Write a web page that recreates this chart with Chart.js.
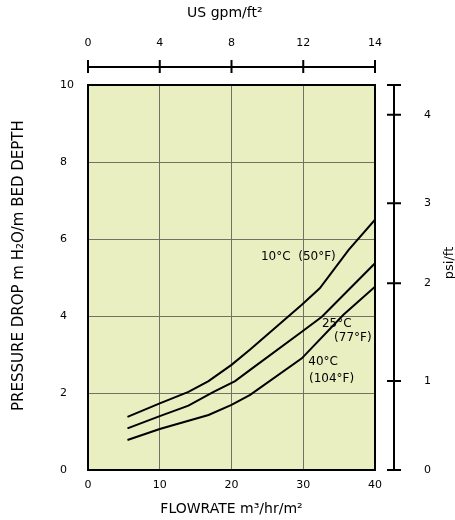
<!DOCTYPE html>
<html>
<head>
<meta charset="utf-8">
<script src="https://cdn.jsdelivr.net/npm/chart.js@4/dist/chart.umd.min.js"></script>
<style>
  html, body { margin: 0; padding: 0; background: #ffffff; }
  #wrap { width: 455px; height: 520px; }
</style>
</head>
<body>
<div id="wrap"><canvas id="c" width="455" height="520"></canvas></div>
<script>
// ---- data ----
const flow10C = [5.5, 10, 14, 16.8, 20, 22.6, 29.8, 32.3, 36.3, 40];
const drop10C = [1.38, 1.73, 2.03, 2.31, 2.73, 3.13, 4.29, 4.72, 5.71, 6.5];

const flow25C = [5.5, 10, 14, 17.5, 20.5, 22.6, 29.8, 32.6, 40];
const drop25C = [1.08, 1.40, 1.67, 2.03, 2.31, 2.6, 3.59, 3.98, 5.37];

const flow40C = [5.5, 10, 16.8, 20, 22.6, 29.8, 35.6, 40];
const drop40C = [0.78, 1.065, 1.43, 1.69, 1.95, 2.90, 4.03, 4.76];

// top axis: US gpm/ft2 labels placed at flow gridlines
const gpmTickPos = [0, 10, 20, 30, 40];
const gpmTickLabels = ['0', '4', '8', '12', '14'];

// right axis: psi/ft labels placed at pressure-drop positions (m/m)
const psiTickPos = [0, 2.31, 4.85, 6.93, 9.23];
const psiTickLabels = ['0', '1', '2', '3', '4'];

const curveLabels = ['10°C  (50°F)', '25°C', '(77°F)', '40°C', '(104°F)'];

const FONT = 'DejaVu Sans, Verdana, sans-serif';

function pts(xs, ys) { return xs.map((x, i) => ({x: x, y: ys[i]})); }

const bgPlugin = {
  id: 'bg',
  beforeDraw(chart) {
    const {ctx, chartArea: a} = chart;
    ctx.save();
    ctx.fillStyle = '#e9efc1';
    ctx.fillRect(a.left, a.top, a.right - a.left, a.bottom - a.top);
    ctx.restore();
  }
};

const extraPlugin = {
  id: 'extra',
  afterDraw(chart) {
    const {ctx, chartArea: a, scales} = chart;
    ctx.save();
    ctx.strokeStyle = '#000';
    ctx.lineWidth = 2;
    ctx.lineCap = 'butt';
    // offset top axis (US gpm/ft2)
    const x2 = scales.x2;
    const ty = a.top - 18;
    ctx.beginPath();
    ctx.moveTo(x2.getPixelForValue(gpmTickPos[0]), ty);
    ctx.lineTo(x2.getPixelForValue(gpmTickPos[gpmTickPos.length - 1]), ty);
    gpmTickPos.forEach(v => {
      const px = x2.getPixelForValue(v);
      ctx.moveTo(px, ty - 7);
      ctx.lineTo(px, ty + 6);
    });
    ctx.stroke();
    // offset right axis (psi/ft)
    const y2 = scales.y2;
    const rx = a.right + 19;
    ctx.beginPath();
    ctx.moveTo(rx, y2.getPixelForValue(y2.max));
    ctx.lineTo(rx, y2.getPixelForValue(0));
    ctx.moveTo(rx - 7, y2.getPixelForValue(y2.max));
    ctx.lineTo(rx + 7, y2.getPixelForValue(y2.max));
    psiTickPos.forEach(v => {
      const py = y2.getPixelForValue(v);
      ctx.moveTo(rx - 7, py);
      ctx.lineTo(rx + 7, py);
    });
    ctx.stroke();
    // right axis title, reading bottom to top
    ctx.fillStyle = '#000';
    ctx.font = '13px ' + FONT;
    ctx.textAlign = 'center';
    ctx.textBaseline = 'middle';
    ctx.translate(450, 263);
    ctx.rotate(-Math.PI / 2);
    ctx.fillText('psi/ft', 0, 0);
    ctx.restore();

    // curve labels
    const x = scales.x, y = scales.y;
    const spots = [[24.1, 5.53], [32.6, 3.8], [34.3, 3.43], [30.7, 2.8], [30.8, 2.36]];
    ctx.save();
    ctx.fillStyle = '#000';
    ctx.font = '12px ' + FONT;
    ctx.textAlign = 'left';
    ctx.textBaseline = 'middle';
    curveLabels.forEach((t, i) => {
      ctx.fillText(t, x.getPixelForValue(spots[i][0]), y.getPixelForValue(spots[i][1]));
    });
    ctx.restore();
  }
};

const lineStyle = {borderColor: '#000', borderWidth: 2, pointRadius: 0, tension: 0, fill: false};

new Chart(document.getElementById('c'), {
  type: 'line',
  data: {
    datasets: [
      Object.assign({label: '10°C (50°F)', data: pts(flow10C, drop10C)}, lineStyle),
      Object.assign({label: '25°C (77°F)', data: pts(flow25C, drop25C)}, lineStyle),
      Object.assign({label: '40°C (104°F)', data: pts(flow40C, drop40C)}, lineStyle)
    ]
  },
  options: {
    responsive: false,
    animation: false,
    layout: {padding: 0},
    plugins: {legend: {display: false}, tooltip: {enabled: false}},
    scales: {
      x: {
        type: 'linear', position: 'bottom', min: 0, max: 40,
        ticks: {stepSize: 10, padding: 9, color: '#000', font: {family: FONT, size: 11}},
        grid: {color: '#727264', lineWidth: 1, drawTicks: false},
        border: {display: true, color: '#000', width: 2},
        title: {display: true, text: 'FLOWRATE m³/hr/m²', color: '#000', font: {family: FONT, size: 14}, padding: {top: 0, bottom: 2}},
        afterFit(s) { s.height = 50; }
      },
      x2: {
        type: 'linear', position: 'top', min: 0, max: 40,
        afterBuildTicks(s) { s.ticks = gpmTickPos.map(v => ({value: v})); },
        ticks: {padding: 27, color: '#000', font: {family: FONT, size: 11},
          callback(v) { const i = gpmTickPos.indexOf(v); return i >= 0 ? gpmTickLabels[i] : ''; }},
        grid: {display: false},
        border: {display: true, color: '#000', width: 2},
        title: {display: true, text: 'US gpm/ft²   ', color: '#000', font: {family: FONT, size: 14}, padding: {top: 5, bottom: 0}},
        afterFit(s) { s.height = 85; }
      },
      y: {
        type: 'linear', position: 'left', min: 0, max: 10,
        ticks: {stepSize: 2, padding: 0, crossAlign: 'far', color: '#000', font: {family: FONT, size: 11}},
        grid: {color: '#727264', lineWidth: 1, drawTicks: false},
        border: {display: true, color: '#000', width: 2},
        afterFit(s) { s.width = 28; }
      },
      yTitle: {
        type: 'linear', position: 'left', weight: 1,
        ticks: {display: false},
        grid: {display: false},
        border: {display: false},
        title: {display: true, text: '     PRESSURE DROP m H₂O/m BED DEPTH', color: '#000', font: {family: FONT, size: 15}, padding: {top: 10, bottom: 0}},
        afterFit(s) { s.width = 60; }
      },
      y2: {
        type: 'linear', position: 'right', min: 0, max: 10,
        afterBuildTicks(s) { s.ticks = psiTickPos.map(v => ({value: v})); },
        ticks: {padding: 41, color: '#000', font: {family: FONT, size: 11},
          callback(v) { const i = psiTickPos.indexOf(v); return i >= 0 ? psiTickLabels[i] : ''; }},
        grid: {display: false},
        border: {display: true, color: '#000', width: 2},
        afterFit(s) { s.width = 80; }
      }
    }
  },
  plugins: [bgPlugin, extraPlugin]
});
</script>
</body>
</html>
